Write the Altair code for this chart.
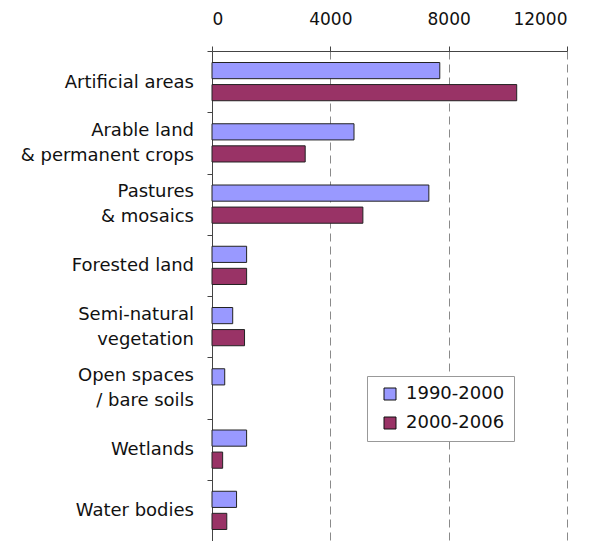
import altair as alt
import pandas as pd

NB = "\u00a0"
categories = [
    "Artificial areas",
    "Arable land" + NB * 6 + "\n& permanent crops",
    "Pastures" + NB * 2 + "\n& mosaics",
    "Forested land",
    "Semi-natural\nvegetation" + NB,
    "Open spaces\n/ bare soils",
    "Wetlands",
    "Water bodies",
]
periods = ["1990-2000", "2000-2006"]
values_1990_2000 = [7700, 4800, 7330, 1170, 700, 430, 1170, 830]
values_2000_2006 = [10300, 3150, 5100, 1170, 1100, 0, 360, 500]
x_ticks = [0, 4000, 8000, 12000]
colors = ["#9999FF", "#993366"]

rows = []
for c, v1, v2 in zip(categories, values_1990_2000, values_2000_2006):
    rows.append({"category": c, "period": periods[0], "value": v1})
    rows.append({"category": c, "period": periods[1], "value": v2})
df = pd.DataFrame(rows)

label_rows = []
for c in categories:
    parts = c.split("\n")
    label_rows.append({
        "category": c,
        "line1": parts[0],
        "line2": parts[1] if len(parts) > 1 else "",
    })
ldf = pd.DataFrame(label_rows)

FONT = "DejaVu Sans"

y_enc = alt.Y(
    "category:N",
    sort=categories,
    scale=alt.Scale(paddingInner=0, paddingOuter=0),
    axis=alt.Axis(
        title=None,
        labels=False,
        tickBand="extent",
        tickSize=5,
        tickColor="#444444",
        domainColor="#444444",
        grid=False,
    ),
)

bars = (
    alt.Chart(df)
    .mark_bar(stroke="#222222", strokeWidth=1)
    .encode(
        x=alt.X(
            "value:Q",
            scale=alt.Scale(domain=[0, 12000], nice=False),
            axis=alt.Axis(
                orient="top",
                values=x_ticks,
                format="d",
                title=None,
                grid=True,
                gridColor="#8a8a8a",
                gridDash=[8, 5],
                gridWidth=1,
                domainColor="#444444",
                tickColor="#444444",
                tickSize=5,
                labelPadding=18,
                labelFont=FONT,
                labelFontSize=17,
                labelColor="#111111",
            ),
        ),
        y=y_enc,
        yOffset=alt.YOffset(
            "period:N",
            sort=periods,
            scale=alt.Scale(paddingInner=0.267, paddingOuter=0.522),
        ),
        color=alt.Color(
            "period:N",
            scale=alt.Scale(domain=periods, range=colors),
            legend=alt.Legend(
                title=None,
                orient="none",
                legendX=155,
                legendY=325,
                symbolType="square",
                symbolSize=144,
                symbolStrokeColor="#111111",
                symbolStrokeWidth=1,
                symbolOffset=5,
                labelOffset=7,
                labelFont=FONT,
                labelFontSize=18,
                labelColor="#111111",
                rowPadding=11,
                padding=9,
                strokeColor="#999999",
                fillColor="white",
            ),
        ),
        strokeOpacity=alt.condition("datum.value > 0", alt.value(1), alt.value(0)),
    )
)

text_style = dict(align="right", baseline="middle", font=FONT, fontSize=18, color="#111111")

single_labels = (
    alt.Chart(ldf)
    .transform_filter("datum.line2 == ''")
    .mark_text(dy=1, **text_style)
    .encode(y=y_enc, x=alt.value(-18), text="line1:N")
)
first_lines = (
    alt.Chart(ldf)
    .transform_filter("datum.line2 != ''")
    .mark_text(dy=-12, **text_style)
    .encode(y=y_enc, x=alt.value(-18), text="line1:N")
)
second_lines = (
    alt.Chart(ldf)
    .transform_filter("datum.line2 != ''")
    .mark_text(dy=13, **text_style)
    .encode(y=y_enc, x=alt.value(-18), text="line2:N")
)

chart = (
    alt.layer(bars, single_labels, first_lines, second_lines)
    .properties(
        width=355,
        height=490,
        autosize=alt.AutoSizeParams(type="none"),
        padding={"left": 204, "top": 43, "right": 27, "bottom": 0},
    )
    .configure_view(stroke=None)
)

chart.save("out.html", embed_options={"renderer": "svg", "actions": False})
